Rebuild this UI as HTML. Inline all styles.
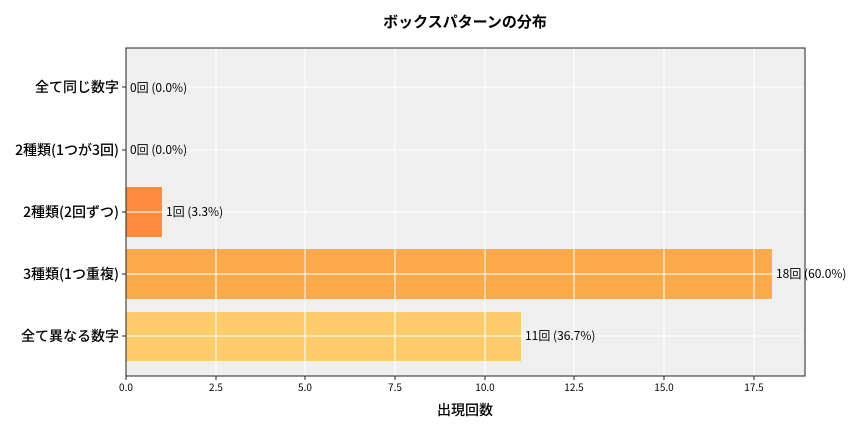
<!DOCTYPE html>
<html><head><meta charset="utf-8"><style>
body{margin:0;background:#fff}
text{font-family:"Noto Sans CJK JP","Liberation Sans",sans-serif}
</style></head><body>
<svg width="864" height="432" xmlns="http://www.w3.org/2000/svg">
<rect x="126" y="48" width="679" height="328" fill="#efefef"/>
<rect x="126" y="187" width="36" height="50" fill="#fd8d3c"/>
<rect x="126" y="249" width="646" height="50" fill="#fdab4a"/>
<rect x="126" y="312" width="395" height="49" fill="#fecb6b"/>
<g stroke="#fff" stroke-width="1">
<line x1="216" y1="48" x2="216" y2="376"/><line x1="305" y1="48" x2="305" y2="376"/>
<line x1="395" y1="48" x2="395" y2="376"/><line x1="485" y1="48" x2="485" y2="376"/>
<line x1="574" y1="48" x2="574" y2="376"/><line x1="664" y1="48" x2="664" y2="376"/>
<line x1="754" y1="48" x2="754" y2="376"/>
<line x1="126" y1="87" x2="805" y2="87"/><line x1="126" y1="150" x2="805" y2="150"/>
<line x1="126" y1="212" x2="805" y2="212"/><line x1="126" y1="274" x2="805" y2="274"/>
<line x1="126" y1="336" x2="805" y2="336"/>
</g>
<rect x="126" y="48" width="679" height="328" fill="none" stroke="#222" stroke-width="1"/>
<g stroke="#222">
<line x1="126" y1="376" x2="126" y2="380"/><line x1="216" y1="376" x2="216" y2="380"/>
<line x1="305" y1="376" x2="305" y2="380"/><line x1="395" y1="376" x2="395" y2="380"/>
<line x1="485" y1="376" x2="485" y2="380"/><line x1="574" y1="376" x2="574" y2="380"/>
<line x1="664" y1="376" x2="664" y2="380"/><line x1="754" y1="376" x2="754" y2="380"/>
<line x1="122" y1="87" x2="126" y2="87"/><line x1="122" y1="150" x2="126" y2="150"/>
<line x1="122" y1="212" x2="126" y2="212"/><line x1="122" y1="274" x2="126" y2="274"/>
<line x1="122" y1="336" x2="126" y2="336"/>
</g>
<g font-size="10" text-anchor="middle" fill="#000">
<text x="126" y="391">0.0</text><text x="216" y="391">2.5</text><text x="305" y="391">5.0</text>
<text x="395" y="391">7.5</text><text x="485" y="391">10.0</text><text x="574" y="391">12.5</text>
<text x="664" y="391">15.0</text><text x="754" y="391">17.5</text>
</g>
<g font-size="14" text-anchor="end" fill="#000" font-weight="500">
<text x="119" y="92">全て同じ数字</text><text x="119" y="155">2種類(1つが3回)</text>
<text x="119" y="217">2種類(2回ずつ)</text><text x="119" y="279">3種類(1つ重複)</text>
<text x="119" y="341">全て異なる数字</text>
</g>
<g font-size="12" fill="#000">
<text x="130" y="92">0回 (0.0%)</text><text x="130" y="154">0回 (0.0%)</text>
<text x="166" y="216">1回 (3.3%)</text><text x="776" y="278">18回 (60.0%)</text>
<text x="525" y="340">11回 (36.7%)</text>
</g>
<text x="465" y="415" font-size="14" text-anchor="middle" font-weight="500">出現回数</text>
<text x="465" y="27" font-size="15" text-anchor="middle" font-weight="bold">ボックスパターンの分布</text>
</svg>
</body></html>
